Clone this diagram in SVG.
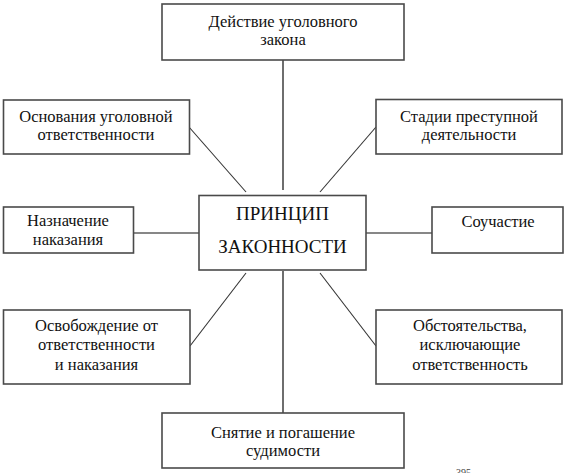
<svg xmlns="http://www.w3.org/2000/svg" width="568" height="473" viewBox="0 0 568 473">
<style>
.box{fill:#fff;stroke:#4a4a4a;stroke-width:1.6}
text{font-family:'Liberation Serif','DejaVu Serif','Times New Roman',serif}
.t{font-size:16.5px;fill:#111;text-anchor:middle}
.big{font-size:19px}
.v{stroke:#6e6e6e;stroke-width:2;fill:none}
.d{stroke:#333;stroke-width:1.1;fill:none}
.h{stroke:#111;stroke-width:1.2;fill:none}
.pg{font-size:10px;fill:#444}
</style>
<rect width="568" height="473" fill="#fff"/>
<g id="connectors">
<line class="v" x1="283" y1="60" x2="283" y2="190"/>
<line class="v" x1="283" y1="271" x2="283" y2="416"/>
<line class="d" x1="189" y1="127" x2="246" y2="192"/>
<line class="d" x1="376" y1="127" x2="320" y2="192"/>
<line class="d" x1="246" y1="273" x2="190" y2="346"/>
<line class="d" x1="320" y1="273" x2="376" y2="346"/>
<line class="h" x1="133" y1="233" x2="199" y2="233"/>
<line class="h" x1="366" y1="233" x2="432" y2="233"/>
</g>
<g id="center">
<rect class="box" x="199" y="195.5" width="167" height="74.5"/>
<text class="t big" x="282.5" y="220" font-family="Liberation Serif, DejaVu Serif, serif">ПРИНЦИП</text>
<text class="t big" x="282.5" y="253" font-family="Liberation Serif, DejaVu Serif, serif">ЗАКОННОСТИ</text>
</g>
<g id="top">
<rect class="box" x="162" y="4" width="242" height="56"/>
<text class="t" x="283" y="27" font-family="Liberation Serif, DejaVu Serif, serif">Действие уголовного</text>
<text class="t" x="283" y="45" font-family="Liberation Serif, DejaVu Serif, serif">закона</text>
</g>
<g id="osnovaniya">
<rect class="box" x="3.5" y="100" width="186" height="54"/>
<text class="t" x="96" y="122" font-family="Liberation Serif, DejaVu Serif, serif">Основания уголовной</text>
<text class="t" x="96" y="140" font-family="Liberation Serif, DejaVu Serif, serif">ответственности</text>
</g>
<g id="stadii">
<rect class="box" x="376" y="99.5" width="186" height="54.5"/>
<text class="t" x="469" y="122" font-family="Liberation Serif, DejaVu Serif, serif">Стадии преступной</text>
<text class="t" x="469" y="140" font-family="Liberation Serif, DejaVu Serif, serif">деятельности</text>
</g>
<g id="naznachenie">
<rect class="box" x="3.5" y="207" width="130" height="46"/>
<text class="t" x="68" y="226" font-family="Liberation Serif, DejaVu Serif, serif">Назначение</text>
<text class="t" x="68" y="245" font-family="Liberation Serif, DejaVu Serif, serif">наказания</text>
</g>
<g id="souchastie">
<rect class="box" x="432" y="207" width="131" height="46"/>
<text class="t" x="498" y="226.5" font-family="Liberation Serif, DejaVu Serif, serif">Соучастие</text>
</g>
<g id="osvobozhdenie">
<rect class="box" x="3.5" y="310" width="186.5" height="74"/>
<text class="t" x="96.5" y="331" font-family="Liberation Serif, DejaVu Serif, serif">Освобождение от</text>
<text class="t" x="96.5" y="350" font-family="Liberation Serif, DejaVu Serif, serif">ответственности</text>
<text class="t" x="96.5" y="369.5" font-family="Liberation Serif, DejaVu Serif, serif">и наказания</text>
</g>
<g id="obstoyatelstva">
<rect class="box" x="376" y="310" width="186" height="74"/>
<text class="t" x="470" y="331" font-family="Liberation Serif, DejaVu Serif, serif">Обстоятельства,</text>
<text class="t" x="470" y="350" font-family="Liberation Serif, DejaVu Serif, serif">исключающие</text>
<text class="t" x="470" y="369.5" font-family="Liberation Serif, DejaVu Serif, serif">ответственность</text>
</g>
<g id="snyatie">
<rect class="box" x="162" y="413" width="242" height="55"/>
<text class="t" x="283" y="438" font-family="Liberation Serif, DejaVu Serif, serif">Снятие и погашение</text>
<text class="t" x="283" y="456" font-family="Liberation Serif, DejaVu Serif, serif">судимости</text>
</g>
<text class="pg" x="456" y="476" font-family="Liberation Serif, DejaVu Serif, serif">395</text>
</svg>
